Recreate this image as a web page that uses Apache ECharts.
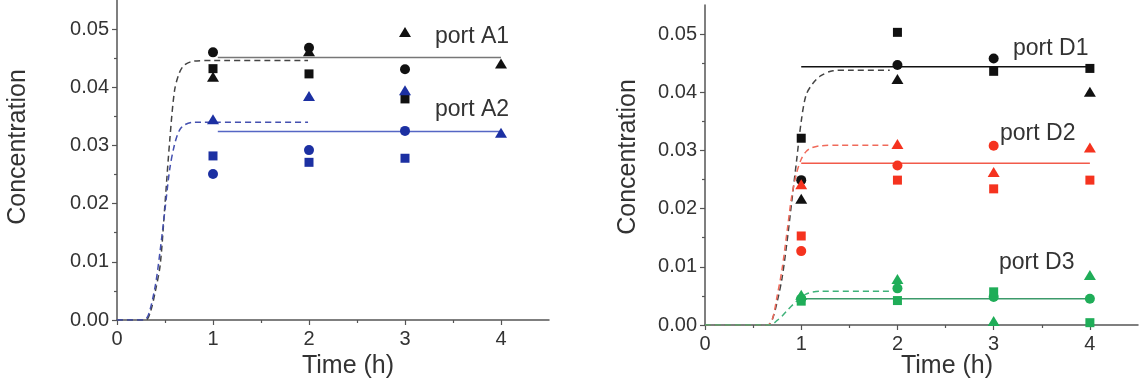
<!DOCTYPE html>
<html>
<head>
<meta charset="utf-8">
<script src="https://cdn.jsdelivr.net/npm/echarts@6/dist/echarts.min.js"></script>
<style>
  html, body { margin: 0; padding: 0; background: #fff; }
  #chart { width: 1146px; height: 381px; }
</style>
</head>
<body>
<div id="chart"></div>
<script>
const times = [1, 2, 3, 4];
const xTicks = [0, 1, 2, 3, 4];
const yTicks = [0, 0.01, 0.02, 0.03, 0.04, 0.05];

// port A (left panel), replicates: circle / square / triangle
const a1Circle = [0.0460, 0.0468, 0.0431, null];
const a1Square = [0.0432, 0.0423, 0.0380, null];
const a1Triangle = [0.0418, 0.0462, 0.0495, 0.0441];
const a2Circle = [0.0251, 0.0292, 0.0325, null];
const a2Square = [0.0282, 0.0271, 0.0278, null];
const a2Triangle = [0.0345, 0.0385, 0.0395, 0.0322];

// port D (right panel)
const d1Circle = [0.0249, 0.0447, 0.0458, null];
const d1Square = [0.0321, 0.0503, 0.0436, 0.0441];
const d1Triangle = [0.0217, 0.0423, null, 0.0401];
const d2Circle = [0.0127, 0.0274, 0.0308, null];
const d2Square = [0.0153, 0.0249, 0.0234, 0.0249];
const d2Triangle = [0.0242, 0.0311, 0.0263, 0.0305];
const d3Circle = [0.0045, 0.0063, 0.0048, 0.0045];
const d3Square = [0.0041, 0.0042, 0.0057, 0.0004];
const d3Triangle = [0.0052, 0.0079, 0.0007, 0.0086];

// steady-state levels (solid lines) [xStart, xEnd, y]
const a1Level = [1.05, 4, 0.0451];
const a2Level = [1.05, 4, 0.0324];
const d1Level = [1, 4, 0.0444];
const d2Level = [1, 4, 0.0278];
const d3Level = [1, 4, 0.0045];

// model curves (dashed)
const a1Curve = [[0, 0], [0.3, 0], [0.35, 0.0015], [0.4, 0.005], [0.45, 0.0095], [0.5, 0.02], [0.55, 0.031], [0.6, 0.0395], [0.65, 0.0425], [0.7, 0.0438], [0.8, 0.0445], [1, 0.0446], [1.99, 0.0446]];
const a2Curve = [[0, 0], [0.28, 0], [0.33, 0.001], [0.4, 0.006], [0.45, 0.012], [0.5, 0.019], [0.55, 0.026], [0.6, 0.0302], [0.65, 0.0326], [0.7, 0.0335], [0.8, 0.034], [1.99, 0.034]];
const d1Curve = [[0, 0], [0.65, 0], [0.7, 0.001], [0.75, 0.004], [0.8, 0.008], [0.85, 0.014], [0.9, 0.021], [0.95, 0.028], [1.0, 0.035], [1.05, 0.0395], [1.12, 0.0415], [1.2, 0.0428], [1.33, 0.0437], [1.5, 0.0438], [1.92, 0.0438]];
const d2Curve = [[0, 0], [0.65, 0], [0.7, 0.001], [0.75, 0.005], [0.8, 0.0095], [0.86, 0.017], [0.9, 0.022], [0.95, 0.026], [1.0, 0.0285], [1.05, 0.0298], [1.1, 0.0304], [1.2, 0.0308], [1.4, 0.0309], [1.92, 0.0309]];
const d3Curve = [[0, 0], [0.68, 0], [0.75, 0.0008], [0.8, 0.0015], [0.86, 0.0026], [0.92, 0.0036], [1.0, 0.0047], [1.05, 0.0053], [1.1, 0.0056], [1.2, 0.0058], [1.92, 0.0058]];

const FONT = '"Liberation Sans", Arial, Helvetica, sans-serif';
const AXIS_COLOR = '#555';
const TEXT_COLOR = '#333';

const pts = arr => times.map((t, i) => [t, arr[i]]).filter(p => p[1] != null);

function markers(idx, color, circle, square, triangle) {
  return [
    { type: 'scatter', xAxisIndex: idx, yAxisIndex: idx, symbol: 'circle', symbolSize: 10, itemStyle: { color: color, opacity: 1 }, data: pts(circle), z: 5 },
    { type: 'scatter', xAxisIndex: idx, yAxisIndex: idx, symbol: 'rect', symbolSize: 9, itemStyle: { color: color, opacity: 1 }, data: pts(square), z: 5 },
    { type: 'scatter', xAxisIndex: idx, yAxisIndex: idx, symbol: 'triangle', symbolSize: [12, 10], itemStyle: { color: color, opacity: 1 }, data: pts(triangle), z: 5 }
  ];
}

function level(idx, color, lv) {
  return { type: 'line', xAxisIndex: idx, yAxisIndex: idx, symbol: 'none', silent: true, z: 3,
    lineStyle: { color: color, width: 1.5 }, data: [[lv[0], lv[2]], [lv[1], lv[2]]] };
}

function curve(idx, color, data) {
  return { type: 'line', xAxisIndex: idx, yAxisIndex: idx, symbol: 'none', silent: true, smooth: 0.3, z: 2,
    lineStyle: { color: color, width: 1.5, type: [6, 4] }, data: data };
}

function xAxis(gridIndex) {
  return {
    type: 'value', gridIndex: gridIndex, min: 0, max: 4.5, interval: 1,
    axisLine: { show: true, lineStyle: { color: AXIS_COLOR, width: 1.5 } },
    axisTick: { show: true, customValues: xTicks, length: 5, lineStyle: { color: AXIS_COLOR, width: 1.2 } },
    minorTick: { show: true, splitNumber: 2, length: 3, lineStyle: { color: AXIS_COLOR, width: 1.2 } },
    axisLabel: { customValues: xTicks, color: TEXT_COLOR, fontSize: 20, fontFamily: FONT, margin: 9 },
    splitLine: { show: false }
  };
}

function yAxis(gridIndex) {
  return {
    type: 'value', gridIndex: gridIndex, min: 0, max: 0.055, interval: 0.01,
    axisLine: { show: true, lineStyle: { color: AXIS_COLOR, width: 1.5 } },
    axisTick: { show: true, customValues: yTicks, length: 5, lineStyle: { color: AXIS_COLOR, width: 1.2 } },
    minorTick: { show: true, splitNumber: 2, length: 3, lineStyle: { color: AXIS_COLOR, width: 1.2 } },
    axisLabel: { customValues: yTicks, color: TEXT_COLOR, fontSize: 20, fontFamily: FONT, margin: 8,
      formatter: v => v.toFixed(2) },
    splitLine: { show: false }
  };
}

function label(text, x, y, rotate) {
  return { type: 'text', x: x, y: y, rotation: rotate ? Math.PI / 2 : 0,
    style: { text: text, fill: TEXT_COLOR, font: (rotate ? 25 : 23) + 'px ' + FONT,
      textAlign: rotate ? 'center' : 'left', textVerticalAlign: 'middle' } };
}

function title(text, x, y) {
  return { type: 'text', x: x, y: y,
    style: { text: text, fill: TEXT_COLOR, font: '25px ' + FONT, textAlign: 'center', textVerticalAlign: 'middle' } };
}

const chart = echarts.init(document.getElementById('chart'));
chart.setOption({
  animation: false,
  backgroundColor: '#fff',
  grid: [
    { left: 117, top: 0, width: 432, height: 320 },
    { left: 705, top: 5, width: 433, height: 320 }
  ],
  xAxis: [xAxis(0), xAxis(1)],
  yAxis: [yAxis(0), yAxis(1)],
  graphic: [
    label('Concentration', 18, 147, true),
    label('Concentration', 628, 157, true),
    title('Time (h)', 348, 366),
    title('Time (h)', 947, 366),
    label('port A1', 435, 37),
    label('port A2', 435, 110),
    label('port D1', 1013, 49),
    label('port D2', 1000, 134),
    label('port D3', 999, 263)
  ],
  series: [
    curve(0, '#444', a1Curve),
    curve(0, '#4450b0', a2Curve),
    level(0, '#777', a1Level),
    level(0, '#5566c4', a2Level),
    ...markers(0, '#111', a1Circle, a1Square, a1Triangle),
    ...markers(0, '#1c30a2', a2Circle, a2Square, a2Triangle),

    curve(1, '#444', d1Curve),
    curve(1, '#f06a5a', d2Curve),
    curve(1, '#3fb27a', d3Curve),
    level(1, '#111', d1Level),
    level(1, '#f25a4a', d2Level),
    level(1, '#3c9a6a', d3Level),
    ...markers(1, '#111', d1Circle, d1Square, d1Triangle),
    ...markers(1, '#f5331f', d2Circle, d2Square, d2Triangle),
    ...markers(1, '#1fad58', d3Circle, d3Square, d3Triangle)
  ]
});
</script>
</body>
</html>
